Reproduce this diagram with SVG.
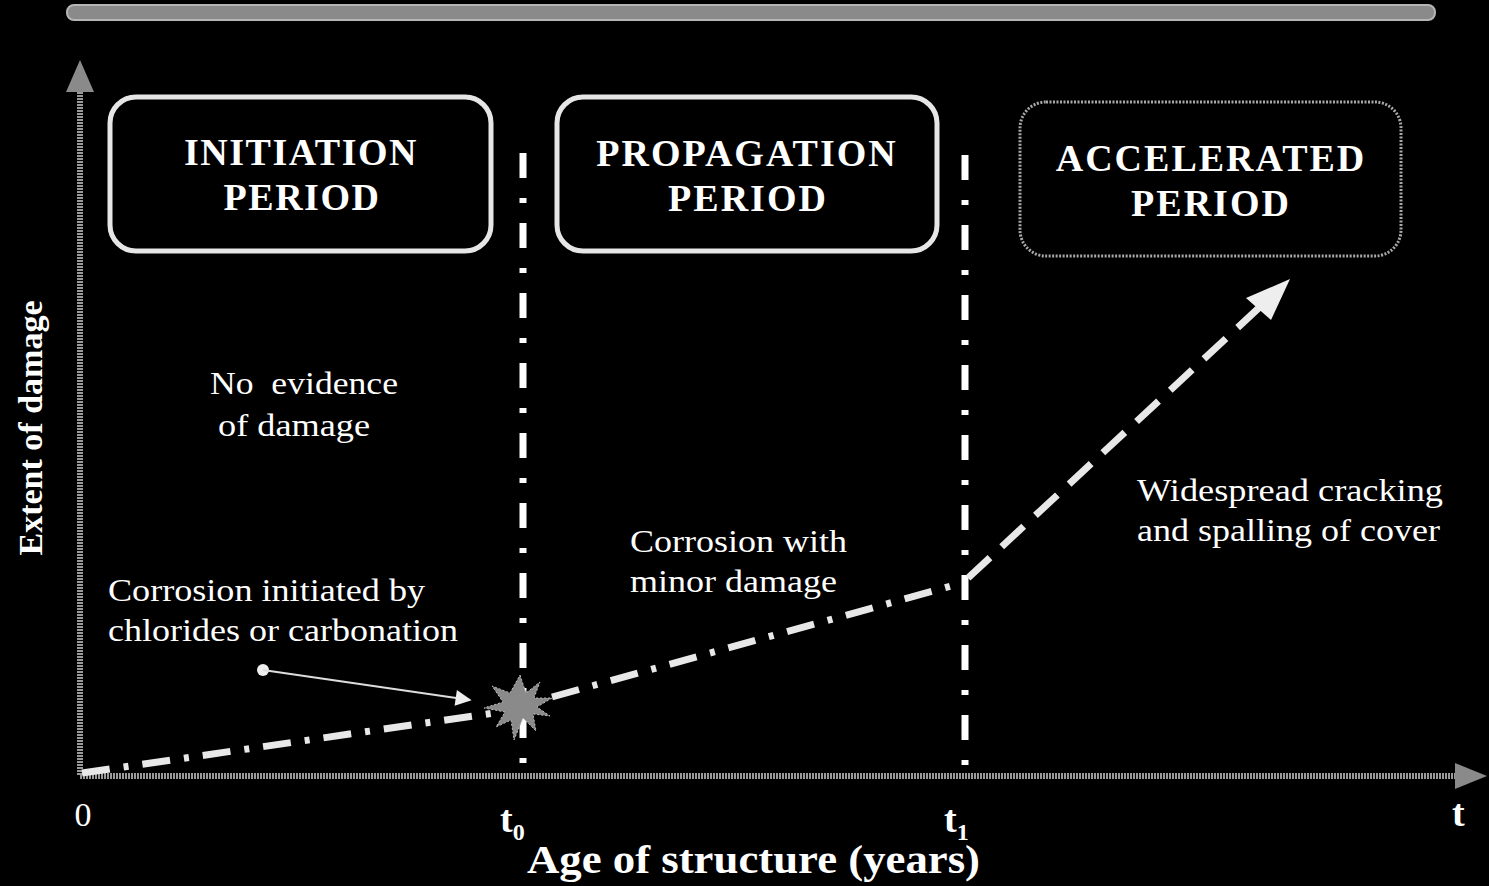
<svg xmlns="http://www.w3.org/2000/svg" width="1489" height="886" viewBox="0 0 1489 886">
<defs>
<style>
.bold{font-family:"Liberation Serif",serif;font-weight:bold;fill:#fff}
.reg{font-family:"Liberation Serif",serif;fill:#fff}
.box{fill:none;stroke:#e6e6e6;stroke-width:5}
.vline{stroke:#fff;stroke-width:7;stroke-dasharray:25 20 5 20;fill:none}
.curve{stroke:#e8e8e8;stroke-width:7;fill:none;stroke-dasharray:28 14 5 14}
.axis{stroke:#9a9a9a;stroke-width:6;fill:none;stroke-dasharray:2 1}
</style>
<marker id="thin" viewBox="0 0 10 10" refX="9" refY="5" markerWidth="18" markerHeight="16" orient="auto" markerUnits="userSpaceOnUse"><path d="M0,0 L10,5 L0,10 z" fill="#eee"/></marker>
</defs>
<rect width="1489" height="886" fill="#000"/>
<g id="topband"><rect x="67" y="5" width="1368" height="15" rx="7" fill="#8a8a8a" stroke="#b5b5b5" stroke-width="2"/></g>
<g id="axes">
<line x1="80" y1="775" x2="80" y2="80" class="axis"/>
<path d="M66,92 L80,60 L94,92 z" fill="#8a8a8a"/>
<line x1="80" y1="776" x2="1462" y2="776" class="axis"/>
<path d="M1455,763 L1487,776 L1455,789 z" fill="#8a8a8a"/>
</g>
<g id="box-initiation">
<rect x="110" y="97" width="381" height="154" rx="26" class="box"/>
<text x="301" y="165" class="bold" font-size="38" text-anchor="middle" letter-spacing="1.5">INITIATION</text>
<text x="302" y="210" class="bold" font-size="38" text-anchor="middle" letter-spacing="1.5">PERIOD</text>
</g>
<g id="box-propagation">
<rect x="557" y="97" width="380" height="154" rx="26" class="box"/>
<text x="747" y="166" class="bold" font-size="38" text-anchor="middle" letter-spacing="2">PROPAGATION</text>
<text x="748" y="211" class="bold" font-size="38" text-anchor="middle" letter-spacing="2">PERIOD</text>
</g>
<g id="box-accelerated">
<rect x="1020" y="102" width="381" height="154" rx="26" fill="none" stroke="#a8a8a8" stroke-width="3" stroke-dasharray="2 1.5"/>
<text x="1211" y="171" class="bold" font-size="38" text-anchor="middle" letter-spacing="2">ACCELERATED</text>
<text x="1211" y="216" class="bold" font-size="38" text-anchor="middle" letter-spacing="2">PERIOD</text>
</g>
<g id="connectors">
<line x1="523" y1="153" x2="523" y2="765" class="vline"/>
<line x1="965" y1="155" x2="965" y2="765" class="vline"/>
<polyline points="82,773 515,710" class="curve"/>
<polyline points="552,697 962,583" class="curve"/>
<line x1="968" y1="578" x2="1262" y2="305" stroke="#e8e8e8" stroke-width="7" stroke-dasharray="30 16"/>
<path d="M1290,279 L1246,298 L1271,320 z" fill="#eee"/>
<circle cx="263" cy="670" r="6" fill="#eee"/>
<line x1="263" y1="670" x2="470" y2="700" stroke="#ddd" stroke-width="2" marker-end="url(#thin)"/>
</g>
<g id="starburst">
<path d="M520,675 L526,693 L540,682 L534,698 L552,698 L537,707 L550,716 L533,714 L536,731 L523,718 L514,740 L511,720 L496,727 L505,712 L484,708 L503,702 L492,686 L510,693 z" fill="#8a8a8a" stroke="#bbb" stroke-width="1" stroke-dasharray="2 2"/>
</g>
<g id="labels">
<text x="210" y="394" class="reg" font-size="32" textLength="188" lengthAdjust="spacingAndGlyphs" xml:space="preserve">No  evidence</text>
<text x="218" y="436" class="reg" font-size="32" textLength="152" lengthAdjust="spacingAndGlyphs">of damage</text>
<text x="108" y="601" class="reg" font-size="32" textLength="317" lengthAdjust="spacingAndGlyphs">Corrosion initiated by</text>
<text x="108" y="641" class="reg" font-size="32" textLength="350" lengthAdjust="spacingAndGlyphs">chlorides or carbonation</text>
<text x="630" y="552" class="reg" font-size="32" textLength="217" lengthAdjust="spacingAndGlyphs">Corrosion with</text>
<text x="630" y="592" class="reg" font-size="32" textLength="207" lengthAdjust="spacingAndGlyphs">minor damage</text>
<text x="1137" y="501" class="reg" font-size="32" textLength="306" lengthAdjust="spacingAndGlyphs">Widespread cracking</text>
<text x="1137" y="541" class="reg" font-size="32" textLength="303" lengthAdjust="spacingAndGlyphs">and spalling of cover</text>
<text x="83" y="826" class="reg" font-size="34" text-anchor="middle">0</text>
<text x="500" y="832" class="bold" font-size="38">t<tspan font-size="24" dy="8">0</tspan></text>
<text x="944" y="832" class="bold" font-size="38">t<tspan font-size="24" dy="8">1</tspan></text>
<text x="1452" y="826" class="bold" font-size="38">t</text>
<text x="527" y="873" class="bold" font-size="40" textLength="453" lengthAdjust="spacingAndGlyphs">Age of structure (years)</text>
<text transform="translate(42,428) rotate(-90)" class="bold" font-size="34" text-anchor="middle" textLength="255" lengthAdjust="spacingAndGlyphs">Extent of damage</text>
</g>
</svg>
